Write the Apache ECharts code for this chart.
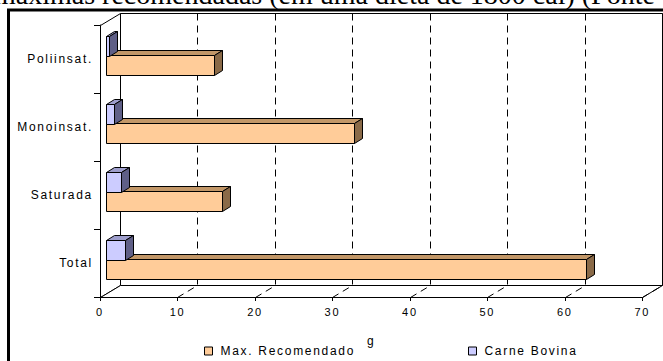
<!DOCTYPE html>
<html>
<head>
<meta charset="utf-8">
<script src="https://cdn.jsdelivr.net/npm/echarts@6/dist/echarts.min.js"></script>
<style>
  html, body { margin: 0; padding: 0; background: #fff; }
  #chart { width: 663px; height: 361px; }
  /* wide, evenly tracked sans labels */
  #chart svg text:not([style*="Serif"]):not([font-family*="Serif"]) { letter-spacing: 1.7px; }
</style>
</head>
<body>
<div id="chart"></div>
<script>
// Fat content in grams, bottom-to-top category order
const categories = ['Total', 'Saturada', 'Monoinsat.', 'Poliinsat.'];
const maxRecomendado = [62, 15, 32, 14];
const carneBovina = [2.5, 2.0, 1.0, 0.4];
const seriesNames = ['Max. Recomendado', 'Carne Bovina'];
const xMin = 0, xMax = 70, xStep = 10;
const axisName = 'g';
const titleText = 'máximas recomendadas (em uma dieta de 1800 cal) (Fonte';

const FONT = '"Liberation Sans", Arial, sans-serif';
const DEPTH = [20, -12];        // offset of the back wall from the front plane
const BAR_FRONT = [6, -3.75];   // where the bar front faces sit inside the depth
const BAR_DEPTH = [8, -5];      // thickness of each bar along the depth
const BAR_RATIO = 0.28;         // bar height as share of the category band

const crisp = v => Math.round(v) + 0.5;

function seg(a, b, extra) {
  return {
    type: 'line',
    shape: { x1: crisp(a[0]), y1: crisp(a[1]), x2: crisp(b[0]), y2: crisp(b[1]) },
    style: Object.assign({ stroke: '#000', lineWidth: 1 }, extra || {})
  };
}

// back wall, side wall, floor and the dashed value grid
function frameItem(params, api) {
  const cs = params.coordSys;
  const x0 = cs.x, y0 = cs.y, x1 = cs.x + cs.width, y1 = cs.y + cs.height;
  const dx = DEPTH[0], dy = DEPTH[1];
  const P = (x, y) => [crisp(x), crisp(y)];
  const children = [
    { type: 'polygon', shape: { points: [P(x0 + dx, y0 + dy), P(x1 + dx, y0 + dy), P(x1 + dx, y1 + dy), P(x0 + dx, y1 + dy)] },
      style: { fill: '#fff', stroke: '#000', lineWidth: 1 } },
    { type: 'polygon', shape: { points: [P(x0, y0), P(x0 + dx, y0 + dy), P(x0 + dx, y1 + dy), P(x0, y1)] },
      style: { fill: '#fff', stroke: '#000', lineWidth: 1 } },
    { type: 'polygon', shape: { points: [P(x0, y1), P(x1, y1), P(x1 + dx, y1 + dy), P(x0 + dx, y1 + dy)] },
      style: { fill: '#fff', stroke: '#000', lineWidth: 1 } }
  ];
  for (let v = xMin + xStep; v <= xMax; v += xStep) {
    const px = api.coord([v, 0])[0];
    children.push(seg([px + dx, y0 + dy], [px + dx, y1 + dy], { lineDash: [7, 5] }));
    children.push(seg([px, y1], [px + dx, y1 + dy], { lineDash: [7, 5] }));
  }
  return { type: 'group', children: children };
}

// one 3D box per value: top face, end face, front face
function barItem(colors, above) {
  return function (params, api) {
    const c = api.value(1);
    const p0 = api.coord([xMin, c]);
    const p1 = api.coord([api.value(0), c]);
    const h = api.size([0, 1])[1] * BAR_RATIO;
    const xs = crisp(p0[0] + BAR_FRONT[0]);
    const xe = crisp(p1[0] + BAR_FRONT[0]);
    const yt = crisp((above ? p0[1] - h : p0[1]) + BAR_FRONT[1]);
    const yb = crisp(yt + h);
    const bx = BAR_DEPTH[0], by = BAR_DEPTH[1];
    const edge = { stroke: '#000', lineWidth: 1, lineJoin: 'miter' };
    return {
      type: 'group',
      children: [
        { type: 'polygon', shape: { points: [[xs, yt], [xe, yt], [xe + bx, yt + by], [xs + bx, yt + by]] },
          style: Object.assign({ fill: colors.top }, edge) },
        { type: 'polygon', shape: { points: [[xe, yt], [xe + bx, yt + by], [xe + bx, yb + by], [xe, yb]] },
          style: Object.assign({ fill: colors.side }, edge) },
        { type: 'rect', shape: { x: xs, y: yt, width: xe - xs, height: yb - yt },
          style: Object.assign({ fill: colors.front }, edge) }
      ]
    };
  };
}

const orange = { front: '#FFCC99', top: '#C29768', side: '#8A6A48' };
const lilac = { front: '#CCCCFF', top: '#9E9ECC', side: '#5F5F87' };

const legendBase = {
  top: 345, padding: 0, icon: 'rect', itemWidth: 8, itemHeight: 8, selectedMode: false,
  textStyle: { fontSize: 12, color: '#000', fontFamily: FONT, padding: [0, 0, 0, 3] },
  itemStyle: { borderColor: '#000', borderWidth: 1 }
};

const chart = echarts.init(document.getElementById('chart'), null, { renderer: 'svg', width: 663, height: 361 });

chart.setOption({
  animation: false,
  backgroundColor: '#fff',
  grid: { left: 100, right: 20.7, top: 25, bottom: 64, containLabel: false, outerBoundsMode: 'none' },
  xAxis: {
    type: 'value', min: xMin, max: xMax, interval: xStep,
    name: axisName, nameLocation: 'middle', nameGap: 38,
    nameTextStyle: { fontSize: 12, color: '#000', fontFamily: FONT },
    axisLine: { show: true, lineStyle: { color: '#000', width: 1 } },
    axisTick: { show: true, length: 4, lineStyle: { color: '#000' } },
    axisLabel: { margin: 9, fontSize: 11, color: '#000', fontFamily: FONT },
    splitLine: { show: false }
  },
  yAxis: {
    type: 'category', data: categories,
    axisLine: { show: true, lineStyle: { color: '#000', width: 1 } },
    axisTick: { show: true, length: 6, lineStyle: { color: '#000' } },
    axisLabel: { margin: 7, fontSize: 12, color: '#000', fontFamily: FONT },
    splitLine: { show: false }
  },
  legend: [
    Object.assign({ data: [seriesNames[0]], left: 204 }, legendBase),
    Object.assign({ data: [seriesNames[1]], left: 468 }, legendBase)
  ],
  graphic: [
    { type: 'text', z: 10,
      style: { text: titleText, x: -6, y: -5.5, font: '28px "Liberation Serif"', fill: '#000', verticalAlign: 'middle' } },
    { type: 'rect', z: 10, shape: { x: 8.5, y: 10, width: 700, height: 400 },
      style: { fill: 'none', stroke: '#000', lineWidth: 3 } }
  ],
  series: [
    { type: 'custom', name: 'frame', silent: true, z: 1, renderItem: frameItem, data: [[0, 0]] },
    { type: 'custom', name: seriesNames[0], z: 3, renderItem: barItem(orange, false),
      itemStyle: { color: orange.front, borderColor: '#000', borderWidth: 1 },
      encode: { x: 0, y: 1 },
      data: maxRecomendado.map((v, i) => [v, i]) },
    { type: 'custom', name: seriesNames[1], z: 4, renderItem: barItem(lilac, true),
      itemStyle: { color: lilac.front, borderColor: '#000', borderWidth: 1 },
      encode: { x: 0, y: 1 },
      data: carneBovina.map((v, i) => [v, i]) }
  ]
});
</script>
</body>
</html>
